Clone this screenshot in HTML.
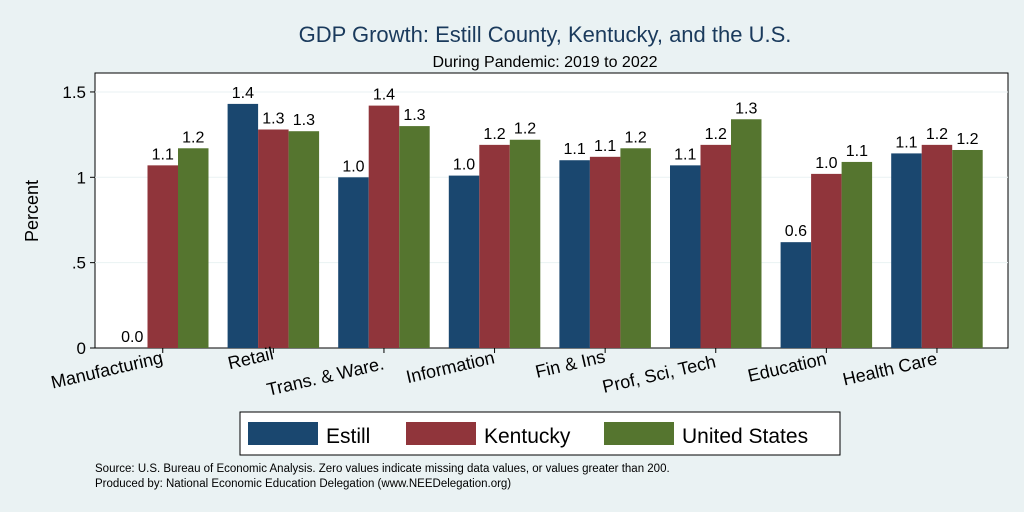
<!DOCTYPE html>
<html><head><meta charset="utf-8"><style>
body{margin:0;background:#eaf2f3;}
svg{display:block;font-family:"Liberation Sans",sans-serif;}
</style></head><body>
<svg id="c" width="1024" height="512">
<rect x="0" y="0" width="1024" height="512" fill="#eaf2f3"/>
<text x="545" y="42" font-size="22" fill="#1a3a5c" text-anchor="middle">GDP Growth: Estill County, Kentucky, and the U.S.</text>
<text x="545" y="67" font-size="16" fill="#000" text-anchor="middle">During Pandemic: 2019 to 2022</text>
<rect x="95" y="73" width="913" height="275" fill="#fff" stroke="#000" stroke-width="1"/>
<g id="grid"></g><g id="bars"></g><g id="xl"></g>
<text transform="translate(38,211) rotate(-90)" font-size="18" text-anchor="middle">Percent</text>
<rect x="240" y="412" width="600" height="43" fill="#fff" stroke="#000"/>
<g><rect x="248" y="422" width="70" height="23" fill="#1a476f"/><text x="326" y="443" font-size="21">Estill</text></g>
<g><rect x="406" y="422" width="70" height="23" fill="#90353b"/><text x="484" y="443" font-size="21">Kentucky</text></g>
<g><rect x="604" y="422" width="70" height="23" fill="#55752f"/><text x="682" y="443" font-size="21">United States</text></g>
<text x="95" y="472" font-size="11.5">Source: U.S. Bureau of Economic Analysis. Zero values indicate missing data values, or values greater than 200.</text>
<text x="95" y="487" font-size="11.5">Produced by: National Economic Education Delegation (www.NEEDelegation.org)</text>
</svg>
<script>
const categories=["Manufacturing","Retail","Trans. & Ware.","Information","Fin & Ins","Prof, Sci, Tech","Education","Health Care"];
const estill=[0,1.43,1.0,1.01,1.10,1.07,0.62,1.14];
const kentucky=[1.07,1.28,1.42,1.19,1.12,1.19,1.02,1.19];
const us=[1.17,1.27,1.30,1.22,1.17,1.34,1.09,1.16];
const yTicks=[0,0.5,1,1.5];
const yTickLabels=["0",".5","1","1.5"];
const labelBaseY=[363,359,369,363,362,367,364,364];
const NS="http://www.w3.org/2000/svg";
const y=v=>348-v*170.7;
const gx=i=>117+i*110.6;
const bw=30.5;
const grid=document.getElementById('grid');
yTicks.forEach((t,i)=>{
 const l=document.createElementNS(NS,'line');
 l.setAttribute('x1',95);l.setAttribute('x2',1008);l.setAttribute('y1',y(t));l.setAttribute('y2',y(t));
 l.setAttribute('stroke',t===0?'none':'#eaf2f3');
 
 
 grid.appendChild(l);
 const k=document.createElementNS(NS,'line');
 k.setAttribute('x1',90);k.setAttribute('x2',95);k.setAttribute('y1',y(t));k.setAttribute('y2',y(t));k.setAttribute('stroke','#000');
 
 
 grid.appendChild(k);
 const tx=document.createElementNS(NS,'text');
 tx.setAttribute('x',86);tx.setAttribute('y',y(t)+6);tx.setAttribute('text-anchor','end');tx.setAttribute('font-size','17');
 tx.textContent=yTickLabels[i];
 
 
 grid.appendChild(tx);
});
const bars=document.getElementById('bars');
const series=[[estill,'#1a476f','estill'],[kentucky,'#90353b','kentucky'],[us,'#55752f','us']];
categories.forEach((c,i)=>{
 series.forEach(([arr,col,nm],s)=>{
  const v=arr[i];const x=gx(i)+s*bw;
  const r=document.createElementNS(NS,'rect');
  r.setAttribute('x',x);r.setAttribute('y',y(v));r.setAttribute('width',bw);r.setAttribute('height',348-y(v));r.setAttribute('fill',col);
  
  
  bars.appendChild(r);
  const t=document.createElementNS(NS,'text');
  t.setAttribute('x',x+bw/2);t.setAttribute('y',y(v)-6);t.setAttribute('text-anchor','middle');t.setAttribute('font-size','16');
  t.textContent=v.toFixed(1);
  
  
  bars.appendChild(t);
 });
 const cx=gx(i)+bw*1.5;
 const k=document.createElementNS(NS,'line');
 k.setAttribute('x1',cx);k.setAttribute('x2',cx);k.setAttribute('y1',348);k.setAttribute('y2',353);k.setAttribute('stroke','#000');
 
 
 bars.appendChild(k);
 const t=document.createElementNS(NS,'text');
 t.setAttribute('transform','translate('+(cx+1)+','+labelBaseY[i]+') rotate(-13)');
 t.setAttribute('text-anchor','end');t.setAttribute('font-size','18');
 t.textContent=c;
 
 
 document.getElementById('xl').appendChild(t);
});
</script>
</body></html>
